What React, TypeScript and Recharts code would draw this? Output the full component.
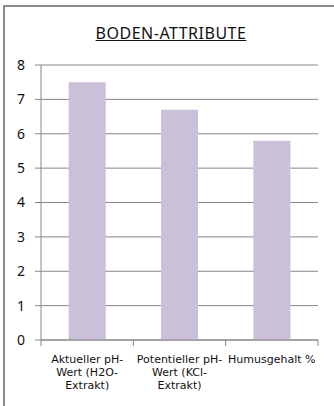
import { BarChart, Bar, XAxis, YAxis, CartesianGrid } from "recharts";

const categories = [
  "Aktueller pH-Wert (H2O-Extrakt)",
  "Potentieller pH-Wert (KCl-Extrakt)",
  "Humusgehalt %",
];
// how the category labels wrap under the axis
const categoryLines = [
  ["Aktueller pH-", "Wert (H2O-", "Extrakt)"],
  ["Potentieller pH-", "Wert (KCl-", "Extrakt)"],
  ["Humusgehalt %"],
];
const values = [7.5, 6.7, 5.8];
const yTicks = [0, 1, 2, 3, 4, 5, 6, 7, 8];

const data = categories.map((name, i) => ({ name, value: values[i] }));

const gridColor = "#868686";
const font = "'Noto Sans', sans-serif";
const labelFont = "'DejaVu Sans', sans-serif";

const CategoryTick = (props: any) => {
  const { x, y, index, width, visibleTicksCount } = props;
  const count = visibleTicksCount || categories.length;
  const band = width / count;
  const lines = categoryLines[index] || [];
  const left = x - band / 2;
  const right = x + band / 2;
  return (
    <g>
      <line x1={left} x2={left} y1={y - 6} y2={y} stroke={gridColor} />
      {index === count - 1 && (
        <line x1={right} x2={right} y1={y - 6} y2={y} stroke={gridColor} />
      )}
      {lines.map((l, i) => (
        <text
          key={i}
          x={x}
          y={y + 17 + i * 13}
          textAnchor="middle"
          fontSize={11}
          fill="#111"
          fontFamily={labelFont}
        >
          {l}
        </text>
      ))}
    </g>
  );
};

export default function App() {
  return (
    <div
      style={{
        position: "absolute",
        left: 0,
        top: 0,
        width: 334,
        height: 406,
        background: "#fff",
        fontFamily: font,
      }}
    >
      <div
        style={{
          position: "absolute",
          left: 3,
          top: 5,
          width: 340,
          height: 410,
          borderTop: "2px solid #8c8c8c",
          borderLeft: "2px solid #8c8c8c",
        }}
      />
      <div
        style={{
          position: "absolute",
          left: 70,
          width: 202,
          top: 22,
          textAlign: "center",
          fontSize: 16,
          letterSpacing: 0.5,
          color: "#111",
          textDecoration: "underline",
        }}
      >
        BODEN-ATTRIBUTE
      </div>
      <div style={{ position: "absolute", left: 0, top: 0 }}>
        <BarChart
          width={334}
          height={406}
          data={data}
          margin={{ top: 65, right: 16, bottom: 16, left: 11 }}
          barCategoryGap="30%"
        >
          <CartesianGrid vertical={false} stroke={gridColor} strokeDasharray="" />
          <YAxis
            domain={[0, 8]}
            ticks={yTicks}
            width={30}
            interval={0}
            axisLine={{ stroke: gridColor }}
            tickLine={{ stroke: gridColor }}
            tickSize={6}
            tickMargin={10}
            tick={{ fontSize: 14, fill: "#111", fontFamily: font }}
          />
          <XAxis
            dataKey="name"
            height={50}
            interval={0}
            axisLine={{ stroke: gridColor }}
            tickLine={false}
            tickSize={6}
            tickMargin={0}
            tick={<CategoryTick />}
          />
          <Bar dataKey="value" fill="#cbc0d9" isAnimationActive={false} />
        </BarChart>
      </div>
    </div>
  );
}
